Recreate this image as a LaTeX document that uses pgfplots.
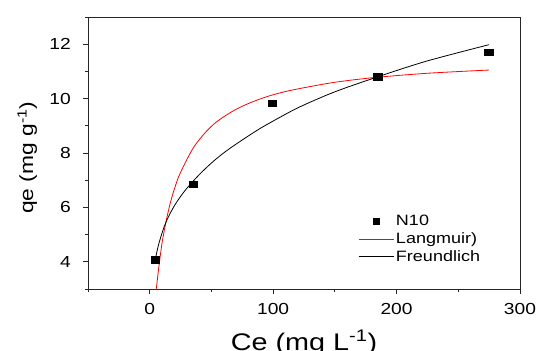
\documentclass[border=0pt]{standalone}
\usepackage{fontspec}
\setmainfont{Liberation Sans}[FakeStretch=1.2]
\usepackage{pgfplots}
\pgfplotsset{compat=1.18}
\begin{document}
\begin{tikzpicture}
\path[use as bounding box] (-88pt,-62pt) rectangle (448pt,289pt);
\begin{axis}[
  at={(0pt,0pt)}, anchor=south west,
  scale only axis, width=432pt, height=272pt,
  xmin=-50, xmax=300, ymin=3, ymax=13,
  xtick={0,100,200,300}, minor xtick={-50,50,150,250},
  ytick={4,6,8,10,12}, minor ytick={3,5,7,9,11,13},
  tick align=outside, tick pos=left,
  major tick length=5pt, minor tick length=3pt,
  axis line style={line width=0.9pt, black!85},
  every tick/.style={black!85, line width=0.8pt},
  /pgf/number format/assume math mode=true,
  ticklabel style={font=\fontsize{16}{18}\selectfont, inner sep=0pt},
  xticklabel style={anchor=north, yshift=-9pt},
  yticklabel style={anchor=east, xshift=-12pt},
  xlabel={Ce (mg L\textsuperscript{-1})},
  ylabel={qe (mg g\textsuperscript{-1})},
  xlabel style={font=\fontsize{24}{28}\selectfont, at={(axis description cs:0.5,-0.1507)}, anchor=north, inner sep=0pt},
  ylabel style={font=\fontsize{19}{22}\selectfont, at={(axis description cs:-0.1273,0.483)}, anchor=base, inner sep=0pt},
  legend style={draw=none, fill=none, at={(axis description cs:0.625,0.279)}, anchor=north west,
    font=\fontsize{15}{17}\selectfont, inner sep=0pt, row sep=1.5pt, nodes={inner sep=2pt}},
  legend cell align=left,
]
\addplot[only marks, mark=square*, mark size=3.3pt, mark options={xscale=1.25}, black,
  legend image code/.code={\path[black] plot[mark=square*, mark size=2.6pt] coordinates {(17.5pt,0pt)};}]
  coordinates {(4.3,4.07) (35.4,6.86) (99.1,9.83) (184.7,10.80) (274.7,11.71)};
\addlegendentry{N10}
\addplot[red, line width=0.8pt, smooth, mark=none,
  legend image code/.code={\draw[red, line width=0.8pt] (0pt,0pt) -- (35pt,0pt);}]
  coordinates {(4.3,2.66) (5.7,3.15) (7.5,3.85) (10.2,4.75) (13.8,5.60) (17.8,6.35) (23.2,7.10)
  (30,7.75) (36.2,8.25) (45,8.75) (54.3,9.15) (67.7,9.55) (80,9.82) (94.8,10.07) (110,10.26)
  (125,10.40) (150,10.60) (181.2,10.77) (224.5,10.93) (274.7,11.05)};
\addlegendentry{Langmuir)}
\addplot[black, line width=0.8pt, smooth, mark=none,
  legend image code/.code={\draw[black, line width=0.8pt] (0pt,0pt) -- (35pt,0pt);}]
  coordinates {(4.5,4.08) (7.0,4.60) (11.0,5.20) (14.6,5.60) (20.5,6.10) (28.6,6.62) (39.4,7.17)
  (50.2,7.64) (61,8.04) (75,8.48) (89.4,8.90) (105,9.30) (121.8,9.70) (150,10.25) (184.7,10.80)
  (224.5,11.38) (274.7,11.98)};
\addlegendentry{Freundlich}
\end{axis}
\end{tikzpicture}
\end{document}
